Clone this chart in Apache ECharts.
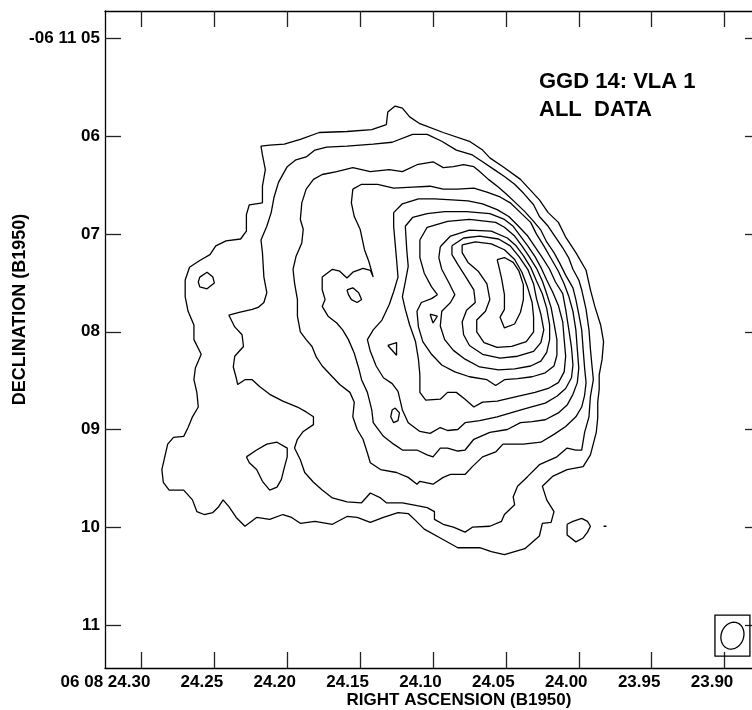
<!DOCTYPE html>
<html>
<head>
<meta charset="utf-8">
<title>GGD 14: VLA 1 - all data</title>
<script src="https://cdn.jsdelivr.net/npm/echarts@6/dist/echarts.min.js"></script>
<style>
  html, body { margin: 0; padding: 0; background: #fff; }
  #chart { width: 752px; height: 710px; }
</style>
</head>
<body>
<div id="chart"></div>
<script>
// axis ticks: RA seconds of time (06h08m) and Dec arcsec (-06d11m)
var raTicks = [24.30, 24.25, 24.20, 24.15, 24.10, 24.05, 24.00, 23.95, 23.90];
var raLabels = ['06 08 24.30', '24.25', '24.20', '24.15', '24.10', '24.05', '24.00', '23.95', '23.90'];
var decTicks = [5, 6, 7, 8, 9, 10, 11];
var decLabels = ['-06 11 05', '06', '07', '08', '09', '10', '11'];

// contour vertices, [RA s, Dec "], lowest level first
var contour1 = [[24.132,5.88],[24.131,5.75],[24.126,5.69],[24.121,5.71],[24.116,5.80],[24.109,5.87],[24.093,5.96],[24.075,6.05],[24.066,6.14],[24.061,6.22],[24.051,6.32],[24.040,6.44],[24.027,6.65],[24.021,6.78],[24.014,6.88],[24.009,7.03],[24.002,7.19],[23.995,7.37],[23.992,7.57],[23.989,7.74],[23.985,7.93],[23.983,8.10],[23.984,8.28],[23.986,8.44],[23.986,8.59],[23.987,8.72],[23.987,8.88],[23.988,9.03],[23.992,9.26],[23.997,9.38],[24.008,9.41],[24.018,9.48],[24.025,9.58],[24.022,9.72],[24.017,9.84],[24.019,9.95],[24.025,9.96],[24.027,10.09],[24.037,10.22],[24.051,10.28],[24.060,10.25],[24.068,10.21],[24.083,10.21],[24.095,10.11],[24.106,10.02],[24.112,9.93],[24.117,9.86],[24.124,9.85],[24.134,9.90],[24.143,9.95],[24.152,9.90],[24.159,9.89],[24.169,9.97],[24.181,9.94],[24.191,9.96],[24.197,9.90],[24.203,9.87],[24.212,9.92],[24.221,9.90],[24.229,9.99],[24.235,9.90],[24.240,9.79],[24.244,9.72],[24.247,9.79],[24.251,9.85],[24.257,9.87],[24.262,9.84],[24.265,9.72],[24.271,9.62],[24.281,9.62],[24.285,9.54],[24.286,9.41],[24.284,9.28],[24.282,9.15],[24.278,9.08],[24.271,9.07],[24.268,8.98],[24.265,8.87],[24.261,8.77],[24.262,8.62],[24.264,8.49],[24.263,8.37],[24.259,8.23],[24.264,8.08],[24.264,7.93],[24.268,7.79],[24.270,7.64],[24.270,7.47],[24.267,7.34],[24.260,7.27],[24.253,7.21],[24.249,7.12],[24.242,7.07],[24.232,7.05],[24.228,6.97],[24.228,6.80],[24.226,6.70],[24.217,6.68],[24.217,6.51],[24.215,6.34],[24.217,6.19],[24.218,6.10],[24.212,6.09],[24.202,6.08],[24.191,6.03],[24.178,5.96],[24.159,5.95],[24.142,5.93]];
var contour2 = [[24.206,6.47],[24.200,6.31],[24.194,6.24],[24.187,6.21],[24.181,6.14],[24.173,6.11],[24.159,6.10],[24.141,6.08],[24.128,6.06],[24.114,5.98],[24.104,5.98],[24.094,6.05],[24.084,6.14],[24.073,6.19],[24.066,6.26],[24.058,6.34],[24.051,6.41],[24.044,6.49],[24.038,6.58],[24.031,6.70],[24.027,6.82],[24.021,6.92],[24.016,7.03],[24.011,7.14],[24.007,7.24],[24.004,7.36],[24.000,7.47],[23.998,7.57],[23.995,7.77],[23.993,7.98],[23.992,8.18],[23.991,8.34],[23.990,8.49],[23.992,8.66],[23.993,8.87],[23.996,9.03],[23.998,9.21],[24.002,9.21],[24.008,9.19],[24.015,9.28],[24.027,9.36],[24.035,9.48],[24.042,9.58],[24.045,9.69],[24.044,9.77],[24.051,9.87],[24.053,9.94],[24.061,9.99],[24.073,10.00],[24.078,10.05],[24.086,10.00],[24.093,9.97],[24.099,9.92],[24.099,9.84],[24.104,9.80],[24.111,9.78],[24.121,9.75],[24.132,9.75],[24.136,9.70],[24.143,9.65],[24.149,9.75],[24.159,9.74],[24.169,9.70],[24.176,9.62],[24.182,9.54],[24.188,9.44],[24.191,9.31],[24.195,9.19],[24.193,9.10],[24.189,9.02],[24.182,8.95],[24.182,8.87],[24.187,8.82],[24.193,8.77],[24.203,8.71],[24.212,8.64],[24.219,8.56],[24.224,8.49],[24.229,8.49],[24.234,8.54],[24.235,8.47],[24.237,8.36],[24.236,8.25],[24.230,8.15],[24.231,8.03],[24.236,7.95],[24.240,7.83],[24.233,7.80],[24.224,7.77],[24.220,7.75],[24.216,7.70],[24.214,7.60],[24.216,7.44],[24.217,7.19],[24.218,7.06],[24.214,6.92],[24.211,6.78],[24.209,6.62]];
var contour3 = [[24.187,6.54],[24.182,6.44],[24.176,6.39],[24.166,6.36],[24.155,6.32],[24.143,6.36],[24.130,6.34],[24.121,6.36],[24.111,6.29],[24.100,6.26],[24.093,6.32],[24.086,6.31],[24.079,6.29],[24.072,6.31],[24.068,6.36],[24.062,6.44],[24.055,6.52],[24.049,6.60],[24.044,6.67],[24.037,6.77],[24.031,6.87],[24.026,6.96],[24.022,7.08],[24.017,7.19],[24.013,7.30],[24.009,7.42],[24.004,7.55],[24.002,7.67],[24.000,7.82],[23.998,7.98],[23.997,8.18],[23.996,8.37],[23.995,8.52],[23.996,8.65],[23.998,8.77],[24.002,8.87],[24.009,8.97],[24.017,9.05],[24.026,9.13],[24.038,9.15],[24.052,9.15],[24.057,9.23],[24.066,9.28],[24.073,9.38],[24.078,9.46],[24.088,9.46],[24.093,9.49],[24.100,9.56],[24.109,9.53],[24.111,9.56],[24.117,9.49],[24.125,9.44],[24.136,9.41],[24.143,9.34],[24.145,9.24],[24.148,9.10],[24.152,9.00],[24.155,8.87],[24.154,8.72],[24.157,8.62],[24.164,8.54],[24.171,8.43],[24.176,8.35],[24.180,8.26],[24.183,8.15],[24.187,8.08],[24.191,8.00],[24.193,7.84],[24.193,7.67],[24.195,7.50],[24.196,7.36],[24.194,7.23],[24.190,7.09],[24.189,6.95],[24.191,6.85],[24.190,6.68]];
var contour4 = [[24.155,6.54],[24.149,6.49],[24.138,6.49],[24.127,6.53],[24.114,6.52],[24.102,6.51],[24.093,6.54],[24.083,6.54],[24.072,6.53],[24.063,6.57],[24.054,6.62],[24.047,6.68],[24.040,6.78],[24.033,6.88],[24.029,7.00],[24.024,7.12],[24.019,7.25],[24.014,7.38],[24.010,7.51],[24.007,7.63],[24.004,7.79],[24.002,7.98],[24.001,8.18],[24.000,8.37],[24.001,8.52],[24.004,8.64],[24.008,8.75],[24.014,8.83],[24.023,8.90],[24.032,8.92],[24.040,8.93],[24.049,9.00],[24.061,9.03],[24.072,9.10],[24.078,9.21],[24.083,9.22],[24.090,9.19],[24.095,9.19],[24.100,9.28],[24.104,9.26],[24.111,9.21],[24.121,9.21],[24.127,9.15],[24.134,9.07],[24.141,8.93],[24.142,8.80],[24.145,8.62],[24.149,8.49],[24.151,8.37],[24.154,8.22],[24.158,8.08],[24.162,7.98],[24.166,7.91],[24.172,7.84],[24.176,7.74],[24.174,7.67],[24.176,7.57],[24.176,7.44],[24.169,7.36],[24.164,7.38],[24.159,7.45],[24.155,7.39],[24.148,7.35],[24.143,7.37],[24.141,7.44],[24.144,7.28],[24.147,7.16],[24.150,6.95],[24.154,6.82],[24.156,6.68]];
var contour5 = [[24.127,6.78],[24.121,6.69],[24.110,6.64],[24.099,6.64],[24.087,6.65],[24.076,6.66],[24.066,6.69],[24.056,6.75],[24.048,6.82],[24.042,6.91],[24.035,7.02],[24.030,7.13],[24.025,7.24],[24.020,7.36],[24.016,7.49],[24.011,7.61],[24.009,7.77],[24.007,7.96],[24.005,8.16],[24.004,8.34],[24.005,8.47],[24.009,8.58],[24.015,8.66],[24.023,8.73],[24.033,8.77],[24.042,8.81],[24.056,8.87],[24.068,8.91],[24.078,8.93],[24.083,9.00],[24.090,9.01],[24.095,8.98],[24.102,9.04],[24.109,9.02],[24.117,8.93],[24.121,8.80],[24.124,8.61],[24.128,8.53],[24.134,8.47],[24.139,8.35],[24.143,8.20],[24.145,8.08],[24.141,7.98],[24.135,7.88],[24.130,7.72],[24.127,7.59],[24.124,7.44],[24.125,7.26],[24.126,7.09],[24.127,6.92]];
var contour6 = [[24.119,6.92],[24.114,6.83],[24.104,6.79],[24.092,6.77],[24.077,6.77],[24.061,6.79],[24.051,6.85],[24.045,6.92],[24.040,7.02],[24.035,7.12],[24.030,7.23],[24.026,7.34],[24.022,7.47],[24.018,7.59],[24.014,7.73],[24.011,7.90],[24.010,8.08],[24.009,8.25],[24.010,8.41],[24.014,8.52],[24.021,8.58],[24.030,8.62],[24.042,8.66],[24.056,8.71],[24.066,8.72],[24.072,8.77],[24.078,8.69],[24.084,8.62],[24.090,8.62],[24.095,8.69],[24.105,8.70],[24.109,8.62],[24.109,8.44],[24.110,8.28],[24.112,8.10],[24.116,7.93],[24.119,7.77],[24.121,7.64],[24.119,7.49],[24.117,7.33],[24.118,7.16]];
var contour7 = [[24.109,7.06],[24.104,6.93],[24.090,6.87],[24.075,6.85],[24.057,6.88],[24.051,6.93],[24.044,7.02],[24.039,7.12],[24.034,7.23],[24.029,7.35],[24.025,7.48],[24.022,7.61],[24.019,7.75],[24.017,7.91],[24.015,8.08],[24.015,8.24],[24.017,8.35],[24.023,8.42],[24.032,8.46],[24.042,8.48],[24.051,8.49],[24.057,8.55],[24.063,8.49],[24.075,8.46],[24.085,8.41],[24.094,8.34],[24.101,8.23],[24.107,8.10],[24.110,7.95],[24.111,7.79],[24.108,7.70],[24.101,7.66],[24.097,7.62],[24.101,7.54],[24.106,7.40],[24.109,7.24]];
var contour8 = [[24.095,7.13],[24.088,7.02],[24.075,6.96],[24.060,6.97],[24.049,7.04],[24.043,7.12],[24.038,7.22],[24.033,7.34],[24.029,7.48],[24.025,7.61],[24.022,7.76],[24.020,7.93],[24.020,8.08],[24.022,8.21],[24.026,8.30],[24.033,8.35],[24.044,8.38],[24.055,8.39],[24.068,8.36],[24.078,8.28],[24.086,8.19],[24.092,8.08],[24.095,7.94],[24.094,7.79],[24.088,7.70],[24.085,7.62],[24.089,7.50],[24.094,7.36],[24.096,7.24]];
var contour9 = [[24.087,7.12],[24.079,7.04],[24.068,7.02],[24.055,7.05],[24.047,7.12],[24.041,7.23],[24.035,7.36],[24.031,7.51],[24.029,7.66],[24.026,7.82],[24.024,7.98],[24.026,8.11],[24.031,8.20],[24.042,8.25],[24.054,8.27],[24.066,8.23],[24.075,8.14],[24.079,8.03],[24.080,7.90],[24.077,7.78],[24.071,7.70],[24.072,7.57],[24.077,7.45],[24.083,7.31],[24.087,7.21]];
var contour10 = [[24.080,7.11],[24.071,7.08],[24.060,7.10],[24.051,7.16],[24.044,7.26],[24.039,7.39],[24.035,7.55],[24.032,7.70],[24.031,7.85],[24.031,8.00],[24.036,8.10],[24.046,8.15],[24.056,8.16],[24.065,8.11],[24.070,8.00],[24.070,7.88],[24.064,7.79],[24.061,7.67],[24.063,7.51],[24.069,7.38],[24.076,7.29],[24.080,7.19]];
var contour11 = [[24.056,7.26],[24.051,7.24],[24.045,7.29],[24.041,7.38],[24.038,7.52],[24.038,7.67],[24.040,7.80],[24.044,7.92],[24.051,7.96],[24.054,7.85],[24.051,7.77],[24.051,7.62],[24.053,7.45],[24.055,7.32]];

// small isolated islands
var islandWest = [[24.260,7.44],[24.255,7.39],[24.251,7.44],[24.250,7.50],[24.255,7.56],[24.260,7.54],[24.261,7.49]];
var islandSouth = [[24.228,9.28],[24.221,9.21],[24.214,9.15],[24.207,9.13],[24.200,9.19],[24.200,9.28],[24.202,9.39],[24.204,9.51],[24.207,9.59],[24.212,9.62],[24.217,9.53],[24.221,9.41],[24.226,9.34]];
var islandNotch = [[24.159,7.57],[24.155,7.55],[24.151,7.60],[24.149,7.67],[24.152,7.70],[24.156,7.67],[24.158,7.62]];
var islandOval = [[24.126,8.78],[24.123,8.83],[24.124,8.91],[24.127,8.93],[24.129,8.87],[24.128,8.80]];
var islandTri1 = [[24.131,8.14],[24.125,8.11],[24.125,8.24]];
var islandTri2 = [[24.102,7.82],[24.097,7.84],[24.100,7.91]];
var islandSE = [[24.008,9.97],[24.004,9.94],[23.998,9.91],[23.994,9.94],[23.992,9.99],[23.994,10.05],[23.997,10.11],[24.002,10.15],[24.008,10.08]];
var islandDot = [[23.983,9.99],[23.982,9.97],[23.981,9.99],[23.982,10.01]];

// restoring beam: centre [RA s, Dec "], FWHM major/minor (arcsec), PA (deg)
var beamPos = [23.8946, 11.11];
var beamAxes = [0.28, 0.23];
var beamPA = -20;

var FONT = '"Liberation Sans", Arial, Helvetica, sans-serif';

function closeRing(pts) {
  return pts.concat([pts[0]]);
}

function findIdx(list, v) {
  for (var i = 0; i < list.length; i++) {
    if (Math.abs(list[i] - v) < 1e-6) return i;
  }
  return -1;
}

var rings = [contour1, contour2, contour3, contour4, contour5, contour6, contour7, contour8,
  contour9, contour10, contour11, islandWest, islandSouth, islandNotch, islandOval,
  islandTri1, islandTri2, islandSE, islandDot];

var series = rings.map(function (r) {
  return {
    type: 'line',
    data: closeRing(r),
    symbol: 'none',
    silent: true,
    lineStyle: { color: '#000', width: 1.3 }
  };
});

series.push({
  type: 'custom',
  silent: true,
  data: [beamPos],
  renderItem: function (params, api) {
    var c = api.coord([api.value(0), api.value(1)]);
    var ppa = Math.abs(api.size([0, 1])[1]); // px per arcsec
    var a = beamAxes[0] / 2 * ppa, b = beamAxes[1] / 2 * ppa;
    var th = beamPA * Math.PI / 180;
    var mj = [-Math.sin(th), -Math.cos(th)], mn = [Math.cos(th), -Math.sin(th)];
    var pts = [];
    for (var k = 0; k <= 60; k++) {
      var t = k / 60 * Math.PI * 2;
      pts.push([c[0] + b * Math.cos(t) * mn[0] + a * Math.sin(t) * mj[0],
                c[1] + b * Math.cos(t) * mn[1] + a * Math.sin(t) * mj[1]]);
    }
    var hw = 0.179 * ppa, hh = 0.21 * ppa;
    return {
      type: 'group',
      children: [
        { type: 'rect', shape: { x: c[0] - hw, y: c[1] - hh, width: hw * 2, height: hh * 2 },
          style: { fill: 'none', stroke: '#000', lineWidth: 1.3 } },
        { type: 'polyline', shape: { points: pts },
          style: { fill: 'none', stroke: '#000', lineWidth: 1.3 } }
      ]
    };
  }
});

var frameLine = { show: true, onZero: false, lineStyle: { color: '#000', width: 1.3 } };
var labelFont = { fontFamily: FONT, fontSize: 17, fontWeight: 'bold', color: '#000' };

function raAxis(pos) {
  var ax = {
    type: 'value', position: pos, min: 23.875, max: 24.325, inverse: true,
    axisLine: frameLine,
    axisTick: { show: true, inside: true, length: 16, customValues: raTicks, lineStyle: { color: '#222', width: 1.3 } },
    axisLabel: { show: false },
    splitLine: { show: false }
  };
  if (pos === 'bottom') {
    ax.axisLabel = {
      show: true, customValues: raTicks, margin: 6,
      formatter: function (v) {
        var i = findIdx(raTicks, v);
        return (i === 0 ? '{f|' : '{t|') + raLabels[i] + '}';
      },
      rich: {
        t: Object.assign({ padding: [0, 25, 0, 0] }, labelFont),
        f: Object.assign({ padding: [0, 72, 0, 0] }, labelFont)
      }
    };
    ax.name = 'RIGHT ASCENSION (B1950)';
    ax.nameLocation = 'middle';
    ax.nameGap = 24;
    ax.nameMoveOverlap = false;
    ax.nameTextStyle = { fontFamily: FONT, fontSize: 17, fontWeight: 'bold', color: '#000', padding: [0, 0, 0, 52] };
  }
  return ax;
}

function decAxis(pos) {
  var ax = {
    type: 'value', position: pos, min: 4.7165, max: 11.441, inverse: true,
    axisLine: frameLine,
    axisTick: { show: true, inside: true, length: 16, customValues: decTicks, lineStyle: { color: '#222', width: 1.3 } },
    axisLabel: { show: false },
    splitLine: { show: false }
  };
  if (pos === 'left') {
    ax.axisLabel = Object.assign({
      show: true, customValues: decTicks, margin: 5,
      formatter: function (v) { return decLabels[findIdx(decTicks, v)]; }
    }, labelFont);
    ax.name = 'DECLINATION (B1950)';
    ax.nameLocation = 'middle';
    ax.nameGap = 76;
    ax.nameMoveOverlap = false;
    ax.nameTextStyle = { fontFamily: FONT, fontSize: 18, fontWeight: 'bold', color: '#000', padding: [0, 0, 0, 60] };
  }
  return ax;
}

var chart = echarts.init(document.getElementById('chart'), null, { renderer: 'canvas' });
chart.setOption({
  backgroundColor: '#fff',
  animation: false,
  title: {
    text: 'GGD 14: VLA 1\nALL  DATA',
    left: 539, top: 68, padding: 0,
    textStyle: { fontFamily: FONT, fontSize: 22, fontWeight: 'bold', color: '#000', lineHeight: 28 }
  },
  grid: { left: 105, top: 11, width: 656, height: 657, containLabel: false, outerBoundsMode: 'none' },
  xAxis: [raAxis('bottom'), raAxis('top')],
  yAxis: [decAxis('left'), decAxis('right')],
  series: series
});
</script>
</body>
</html>
